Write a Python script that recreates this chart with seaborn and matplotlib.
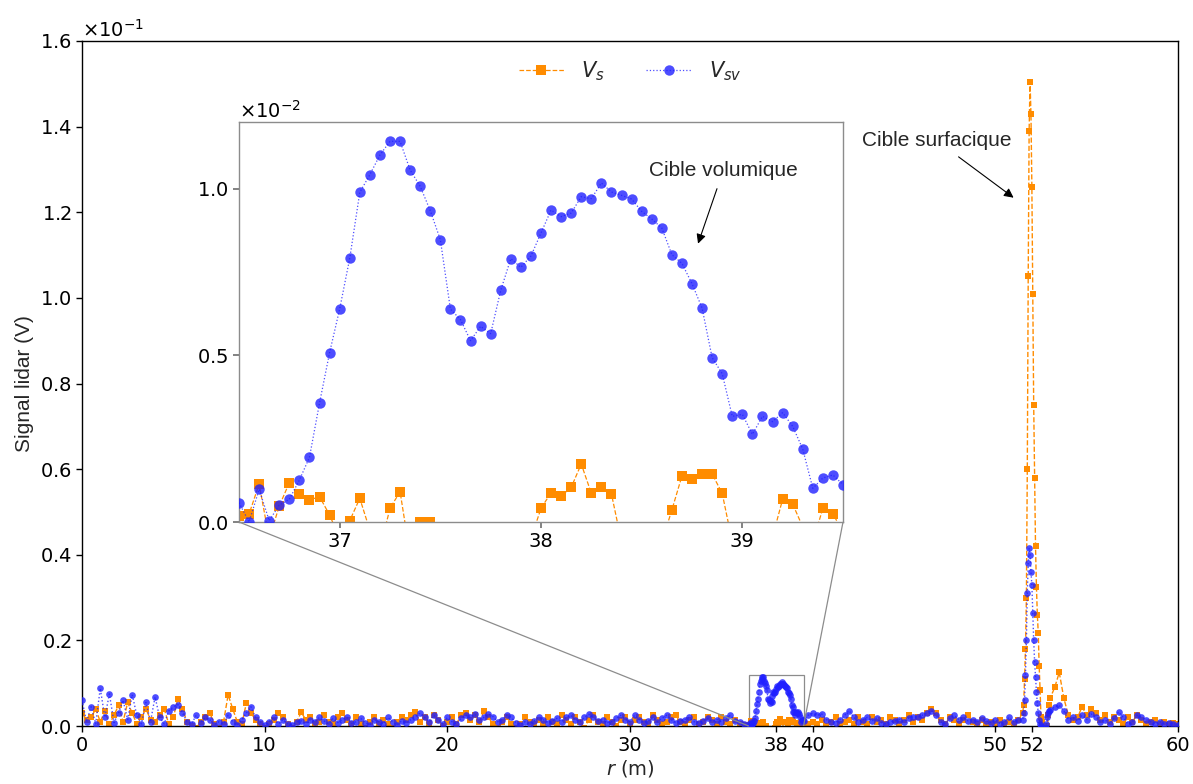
import numpy as np
import matplotlib
matplotlib.use("Agg")
import matplotlib.pyplot as plt
import seaborn as sns
from mpl_toolkits.axes_grid1.inset_locator import mark_inset

# ---------------- data (signal values in 1e-3 V) ----------------
# sampling grids (range r in metres)
r_seg1 = np.linspace(0.0, 36.25, 146)
r_inset = np.linspace(36.5, 39.5, 61)
r_seg2 = np.linspace(39.75, 51.25, 47)
r_peak = np.linspace(51.5, 53.0, 31)
r_seg3 = np.linspace(53.25, 60.0, 28)

vsv_seg1 = [
    6.0, 1.0, 4.5, 0.5, 8.8, 2.0, 7.5, 0.8, 3.0, 6.0, 1.5, 7.3, 2.5, 0.5, 5.5, 1.0, 6.8, 2.0, 0.5, 3.5,
    4.5, 5.0, 3.0, 1.0, 0.5, 2.5, 0.8, 2.0, 1.5, 0.3, 1.0, 0.5, 2.5, 1.0, 0.3, 1.5, 3.0, 4.5, 2.0, 1.0,
    0.3, 1.0, 2.0, 0.5, 1.5, 0.5, 0.3, 1.0, 1.2, 0.5, 1.5, 1.0, 2.0, 1.2, 0.5, 1.8, 0.8, 1.5, 2.0, 0.6,
    1.0, 1.8, 0.8, 0.3, 1.5, 1.0, 0.5, 2.0, 1.0, 0.3, 1.2, 0.8, 1.5, 2.2, 3.0, 2.0, 1.0, 2.5, 1.5, 0.5,
    2.0, 1.0, 0.5, 1.8, 2.5, 2.0, 2.8, 1.5, 2.0, 2.8, 2.2, 1.0, 1.5, 2.5, 2.0, 0.8, 0.3, 1.0, 0.5, 1.2,
    2.0, 1.5, 0.8, 1.2, 1.8, 1.0, 2.0, 2.5, 1.5, 1.0, 2.0, 2.7, 2.0, 1.2, 1.5, 0.8, 1.0, 1.8, 2.5, 1.5,
    1.0, 2.5, 1.5, 0.8, 1.2, 2.0, 1.0, 1.8, 2.5, 1.5, 0.8, 1.2, 1.5, 2.0, 1.0, 0.8, 1.2, 1.8, 1.0, 1.5,
    1.0, 1.8, 2.5, 1.2, 1.0, 0.5,
]
vs_seg1 = [
    3.0, 1.5, 2.0, 4.0, 1.0, 3.5, 0.5, 2.5, 4.8, 1.0, 5.5, 3.0, 0.5, 2.0, 4.0, 1.5, 1.0, 2.5, 4.0, 0.5,
    2.0, 6.4, 4.0, 1.0, 0.0, -0.5, 1.0, 2.0, 3.0, 0.5, -0.5, 1.0, 7.3, 4.0, 1.0, 0.5, 5.4, 3.0, 1.5, 0.5,
    -0.5, 0.5, 1.5, 3.0, 2.0, 0.5, -0.5, 1.0, 3.2, 1.5, 2.0, 0.5, 1.0, 2.5, 1.0, 0.5, 2.0, 3.0, 1.5, 0.5,
    2.0, 0.5, -0.5, 1.0, 2.0, 0.5, 1.5, 0.5, -0.5, 1.0, 2.0, 1.5, 2.5, 3.3, 1.0, 2.0, 0.5, 2.5, 1.5, 0.0,
    1.0, 2.0, 0.5, 2.5, 3.0, 1.5, 2.5, 1.0, 3.5, 2.0, 0.5, -0.5, 1.0, 2.0, 0.5, -0.5, 0.5, 2.0, 1.0, 0.5,
    1.5, 0.5, 2.0, 1.0, 0.5, 2.5, 1.5, 0.5, 2.0, 1.0, -0.5, 1.5, 2.5, 1.0, 0.5, 2.0, 1.0, 0.0, 1.5, 2.0,
    0.5, 1.5, 2.0, 1.0, 0.5, 2.5, 1.5, 0.5, 1.0, 2.0, 2.5, 1.0, 0.5, 1.5, 2.0, 0.5, 1.0, 2.0, 1.5, 0.5,
    2.0, 1.0, 0.5, 1.5, 0.5, 0.3,
]
vsv_inset = [
    0.58, 0.00, 0.98, 0.04, 0.51, 0.68, 1.26, 1.94, 3.57, 5.08,
    6.39, 7.91, 9.89, 10.42, 11.01, 11.42, 11.42, 10.56, 10.07, 9.34,
    8.47, 6.39, 6.07, 5.44, 5.87, 5.65, 6.95, 7.90, 7.64, 7.98,
    8.67, 9.36, 9.16, 9.27, 9.76, 9.70, 10.17, 9.90, 9.80, 9.69,
    9.32, 9.09, 8.82, 8.02, 7.76, 7.15, 6.42, 4.93, 4.45, 3.17,
    3.23, 2.63, 3.17, 3.01, 3.28, 2.87, 2.19, 1.01, 1.32, 1.41,
    1.12,
]
vs_inset = [
    0.18, 0.24, 1.14, -0.50, 0.48, 1.18, 0.84, 0.66, 0.76, 0.21,
    -0.50, 0.04, 0.71, -0.25, -0.80, 0.41, 0.91, -1.00, 0.01, 0.01,
    -0.80, -1.20, -1.00, -1.50, -1.00, -1.30, -0.80, -1.20, -1.00, -0.50,
    0.41, 0.88, 0.78, 1.04, 1.74, 0.86, 1.04, 0.84, -0.60, -1.00,
    -1.20, -1.00, -0.60, 0.36, 1.38, 1.30, 1.44, 1.44, 0.86, -0.60,
    -1.00, -0.80, -0.60, -0.45, 0.68, 0.54, -0.15, -0.60, 0.41, 0.24,
    -0.30,
]
vsv_seg2 = [
    2.5, 3.0, 2.5, 2.8, 1.5, 1.0, 0.8, 1.5, 2.5, 3.6, 2.0, 1.0, 1.5, 2.0, 1.2, 1.8,
    0.8, 0.5, 1.0, 1.2, 1.5, 1.0, 1.8, 2.2, 2.0, 2.5, 3.0, 3.6, 2.5, 1.0, 0.5, 1.8,
    2.5, 1.5, 2.0, 1.2, 1.5, 1.0, 1.8, 1.2, 0.8, 1.5, 0.5, 1.0, 2.0, 1.0, 1.5,
]
vs_seg2 = [
    0.5, 1.0, 0.5, 1.5, 0.0, 1.0, 2.0, 0.5, 1.0, 1.5, 0.5, 2.0, 1.0, 0.5, 2.0, 1.0,
    1.5, 0.5, 2.0, 1.5, 0.5, 1.5, 2.5, 1.0, 2.0, 1.5, 3.0, 4.0, 3.0, 1.5, 0.5, 2.0,
    1.5, 0.5, 1.5, 2.5, 1.0, 0.5, 1.5, 0.5, 1.0, 0.5, 1.5, 0.5, 1.0, 0.5, 1.5,
]
vsv_peak = [
    1.5, 3.0, 6.0, 12.0, 20.0, 31.0, 38.0, 41.5, 40.0, 36.0,
    33.0, 26.3, 20.0, 15.0, 11.5, 8.0, 5.3, 3.0, 1.5, 0.5,
    0.0, -0.5, -1.0, -1.5, -1.0, -0.5, 0.5, 2.0, 3.0, 3.5,
    3.8,
]
vs_peak = [
    3.0, 5.0, 11.0, 18.0, 30.0, 60.0, 105.0, 139.0, 150.5, 143.0,
    126.0, 101.0, 75.0, 58.0, 42.0, 32.5, 26.0, 21.7, 14.0, 8.4,
    2.0, 1.0, -1.0, -2.0, -2.0, -1.5, -1.0, 0.0, 2.5, 5.0,
    6.5,
]
vsv_seg3 = [
    4.5, 4.8, 3.5, 1.5, 2.0, 1.2, 2.5, 1.5, 2.8, 2.0, 1.0, 1.5, 0.5, 1.8,
    3.3, 2.0, 0.5, 1.0, 2.5, 2.0, 1.5, 1.0, 0.5, 1.0, 0.5, 0.8, 0.5, 0.3,
]
vs_seg3 = [
    9.0, 12.5, 6.5, 2.5, 1.5, 2.0, 4.5, 2.5, 4.0, 3.0, 1.5, 2.5, 1.0, 2.0,
    1.5, 0.5, 2.0, 1.0, 2.5, 1.5, 0.5, 1.0, 1.5, 0.5, 1.0, 0.5, 0.8, 0.5,
]

x_ticks = [0, 10, 20, 30, 38, 40, 50, 52, 60]
inset_xticks = [37, 38, 39]

# ---------------- assemble ----------------
r_all = np.concatenate([r_seg1, r_inset, r_seg2, r_peak, r_seg3])
vs_all = np.concatenate([vs_seg1, vs_inset, vs_seg2, vs_peak, vs_seg3]) * 1e-3
vsv_all = np.concatenate([vsv_seg1, vsv_inset, vsv_seg2, vsv_peak, vsv_seg3]) * 1e-3
vs_in = np.array(vs_inset) * 1e-3
vsv_in = np.array(vsv_inset) * 1e-3

ORANGE = "#ff8c00"
BLUE = "#2020ff"

sns.set_theme(style="ticks")
plt.rcParams["font.family"] = ["DejaVu Sans"]
plt.rcParams["mathtext.fontset"] = "dejavusans"
plt.rcParams["axes.linewidth"] = 1.0
plt.rcParams["xtick.major.size"] = 4
plt.rcParams["ytick.major.size"] = 4

fig = plt.figure(figsize=(11.93, 7.84), dpi=100)
ax = fig.add_axes([82 / 1193, 1 - 726 / 784, (1178 - 82) / 1193, (726 - 41) / 784])

sns.lineplot(x=r_all, y=vs_all, ax=ax, color=ORANGE, marker="s", markersize=4.3,
             linestyle="--", linewidth=1.0, markeredgewidth=0, zorder=2)
sns.lineplot(x=r_all, y=vsv_all, ax=ax, color=BLUE, alpha=0.8, marker="o", markersize=4.8,
             linestyle=":", linewidth=1.0, markeredgewidth=0, zorder=3)

ax.set_xlim(0, 60)
ax.set_ylim(0, 0.16)
ax.set_xticks(x_ticks)
ax.set_xticklabels([str(t) for t in x_ticks])
ax.set_yticks(np.arange(0, 0.161, 0.02))
ax.ticklabel_format(axis="y", style="sci", scilimits=(-1, -1), useMathText=True)
ax.tick_params(labelsize=14, width=1, colors="black")
ax.yaxis.get_offset_text().set_fontsize(14)
ax.set_xlabel("$r$ (m)", fontsize=14, labelpad=2)
ax.set_ylabel("Signal lidar (V)", fontsize=15, family=["Liberation Sans", "DejaVu Sans"])
for s in ax.spines.values():
    s.set_color("black")

ax.annotate("Cible surfacique", xy=(51.0, 0.1234), xytext=(46.8, 0.1367),
            ha="center", va="center", fontsize=15,
            family=["Liberation Sans", "DejaVu Sans"],
            arrowprops=dict(arrowstyle="-|>", color="black", lw=0.8,
                            mutation_scale=14, shrinkA=4, shrinkB=0))

# ---------------- inset ----------------
axins = fig.add_axes([239 / 1193, 1 - 522 / 784, (843 - 239) / 1193, (522 - 122) / 784])
sns.lineplot(x=r_inset, y=vs_in, ax=axins, color=ORANGE, marker="s", markersize=6.5,
             linestyle="--", linewidth=0.9, markeredgewidth=0, zorder=2, label="$V_s$")
sns.lineplot(x=r_inset, y=vsv_in, ax=axins, color=BLUE, alpha=0.8, marker="o", markersize=7.5,
             linestyle=":", linewidth=0.9, markeredgewidth=0, zorder=3, label="$V_{sv}$")
axins.set_xlim(36.5, 39.5)
axins.set_ylim(0, 0.012)
axins.set_xticks(inset_xticks)
axins.set_xticklabels([str(t) for t in inset_xticks])
axins.set_yticks([0, 0.005, 0.01])
axins.ticklabel_format(axis="y", style="sci", scilimits=(-2, -2), useMathText=True)
axins.tick_params(labelsize=14, colors="0.45", labelcolor="black")
axins.yaxis.get_offset_text().set_fontsize(14)
axins.set_xlabel("")
axins.set_ylabel("")
for s in axins.spines.values():
    s.set_color("0.55")
    s.set_linewidth(1.0)
handles, labels = axins.get_legend_handles_labels()
if axins.get_legend() is not None:
    axins.get_legend().remove()

axins.annotate("Cible volumique", xy=(38.78, 8.35e-3), xytext=(38.905, 10.54e-3),
               ha="center", va="center", fontsize=15,
               family=["Liberation Sans", "DejaVu Sans"],
               arrowprops=dict(arrowstyle="-|>", color="black", lw=0.8,
                               mutation_scale=14, shrinkA=4, shrinkB=0))

mark_inset(ax, axins, loc1=3, loc2=4, fc="none", ec="0.55", lw=0.9)

ax.legend(handles, labels, loc="upper center", bbox_to_anchor=(0.5, 1.0), ncol=2,
          frameon=False, fontsize=15, handlelength=2.2)

fig.savefig("out.png", dpi=100)
